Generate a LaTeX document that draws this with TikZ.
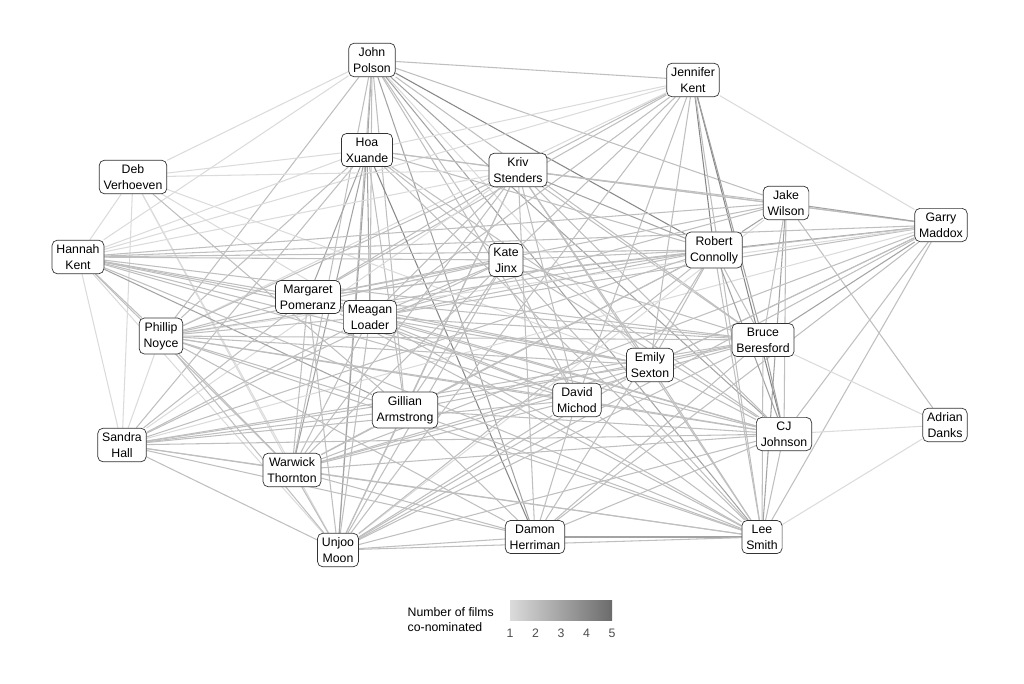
\documentclass[tikz,border=0pt]{standalone}
\usepackage{fontspec}
\setmainfont{Liberation Sans}
\usetikzlibrary{backgrounds}

\tikzset{
  person/.style={draw=black!80, fill=white, rounded corners=3pt, align=center,
    inner sep=2.5pt, font=\fontsize{7}{9}\selectfont},
  w1/.style={draw=black!14, line width=0.6pt},
  w2/.style={draw=black!25, line width=0.6pt},
  w3/.style={draw=black!36, line width=0.6pt},
  w4/.style={draw=black!47, line width=0.6pt},
  w5/.style={draw=black!58, line width=0.6pt},
}

\begin{document}
\begin{tikzpicture}[x=0.02cm, y=-0.02cm]
    \useasboundingbox (0,0) rectangle (1024,683);

    % people
    \node[person] (jp) at (372,60) {John\\Polson};
    \node[person] (jk) at (693,80) {Jennifer\\Kent};
    \node[person] (hx) at (367,150) {Hoa\\Xuande};
    \node[person] (dv) at (133,177) {Deb\\Verhoeven};
    \node[person] (ks) at (518,170) {Kriv\\Stenders};
    \node[person] (jw) at (786,203) {Jake\\Wilson};
    \node[person] (gm) at (941,225) {Garry\\Maddox};
    \node[person] (hk) at (78,257) {Hannah\\Kent};
    \node[person] (kj) at (506,260) {Kate\\Jinx};
    \node[person] (rc) at (714,250) {Robert\\Connolly};
    \node[person] (mp) at (308,297) {Margaret\\Pomeranz};
    \node[person] (ml) at (370,317) {Meagan\\Loader};
    \node[person] (pn) at (161,336) {Phillip\\Noyce};
    \node[person] (bb) at (763,340) {Bruce\\Beresford};
    \node[person] (es) at (650,365) {Emily\\Sexton};
    \node[person] (ga) at (405,410) {Gillian\\Armstrong};
    \node[person] (dm) at (577,400) {David\\Michod};
    \node[person] (ad) at (945,425) {Adrian\\Danks};
    \node[person] (sh) at (122,445) {Sandra\\Hall};
    \node[person] (cj) at (784,434) {CJ\\Johnson};
    \node[person] (wt) at (292,470) {Warwick\\Thornton};
    \node[person] (dh) at (535,537) {Damon\\Herriman};
    \node[person] (ls) at (762,537) {Lee\\Smith};
    \node[person] (um) at (338,550) {Unjoo\\Moon};

    % co-nominations
    \begin{scope}[on background layer]
    \foreach \a/\b/\w in {jp/jk/2, jp/jw/2, jp/rc/4, jp/dh/3, jp/ls/3, jp/cj/3, jp/hx/3, jp/pn/2,
        jp/hk/1, jp/dv/1, jp/wt/2, jp/ml/2, jp/um/2, jp/dm/2, jp/kj/2, jp/bb/2, jp/ga/2, jp/es/1,
        jk/ks/2, jk/kj/2, jk/ml/2, jk/mp/2, jk/rc/4, jk/cj/4, jk/bb/3, jk/gm/1, jk/dm/2, jk/um/2,
        jk/pn/1, jk/hk/1, jk/ls/2, jk/es/2, jk/hx/1,
        hx/ks/2, hx/ml/3, hx/mp/3, hx/um/3, hx/wt/3, hx/dh/4, hx/pn/2, hx/hk/1, hx/dv/1, hx/rc/2,
        hx/kj/2, hx/sh/2, hx/cj/2, hx/ga/2, hx/ls/2, hx/gm/2,
        dv/hk/1, dv/ml/1, dv/ga/2, dv/es/1, dv/ks/1, dv/sh/1, dv/wt/1, dv/um/1,
        ks/rc/3, ks/gm/2, ks/jw/2, ks/hk/1, ks/pn/2, ks/mp/2, ks/ml/2, ks/dm/2, ks/um/2, ks/wt/2,
        ks/ls/2, ks/cj/2, ks/bb/2, ks/es/2, ks/sh/1, ks/dh/2, ks/ga/2,
        jw/gm/3, jw/hk/2, jw/ml/2, jw/mp/2, jw/ls/3, jw/ad/2, jw/bb/2, jw/rc/3, jw/cj/2, jw/um/1,
        gm/rc/3, gm/hk/2, gm/ml/2, gm/mp/2, gm/bb/3, gm/es/2, gm/um/2, gm/dh/2, gm/cj/2, gm/ls/2,
        gm/dm/2, gm/pn/1, gm/wt/2, gm/sh/1,
        hk/kj/2, hk/rc/2, hk/mp/2, hk/ml/2, hk/pn/2, hk/sh/1, hk/ga/3, hk/dm/2, hk/cj/2, hk/bb/2,
        hk/es/2, hk/ls/2, hk/wt/2, hk/um/1,
        kj/rc/2, kj/mp/2, kj/ml/2, kj/pn/2, kj/dm/2, kj/cj/2, kj/ls/2, kj/um/2, kj/sh/2, kj/wt/2,
        kj/bb/2, kj/ga/2,
        rc/mp/2, rc/ml/2, rc/pn/2, rc/bb/2, rc/cj/3, rc/ls/2, rc/um/2, rc/dh/2, rc/sh/2, rc/ga/2,
        rc/es/2, rc/wt/2,
        mp/ml/2, mp/pn/2, mp/um/2, mp/wt/2, mp/sh/2, mp/bb/2, mp/cj/2, mp/ls/2, mp/es/2, mp/dm/2,
        ml/pn/2, ml/cj/2, ml/ls/2, ml/bb/2, ml/um/2, ml/wt/2, ml/sh/2, ml/dm/2, ml/es/2,
        pn/bb/2, pn/cj/2, pn/ls/2, pn/sh/1, pn/wt/2, pn/um/2, pn/ga/2, pn/dm/2, pn/dh/2, pn/es/2,
        bb/es/2, bb/cj/3, bb/ls/2, bb/um/2, bb/dh/2, bb/sh/2, bb/wt/2, bb/ga/2, bb/ad/1,
        es/um/2, es/wt/2, es/sh/2, es/ls/2, es/cj/2,
        ga/sh/2, ga/wt/2, ga/um/2, ga/dh/2, ga/ls/2, ga/cj/2,
        dm/cj/2, dm/ls/2, dm/um/2, dm/dh/2, dm/sh/2, dm/wt/2,
        ad/ls/1, ad/cj/1,
        sh/wt/2, sh/um/2, sh/cj/2, sh/dh/2, sh/ls/2,
        cj/dh/2, cj/ls/2, cj/um/2, cj/wt/2,
        wt/um/2, wt/dh/2, wt/ls/2, dh/um/2, dh/ls/3, um/ls/2}
        \draw[w\w] (\a) -- (\b);
    \end{scope}

    % legend
    \node[align=left, anchor=east, font=\fontsize{7}{8.5}\selectfont] (lgtitle) at (500,620)
        {Number of films\\co-nominated};
    \shade[left color=black!14, right color=black!58] (510,600) rectangle (612,620);
    \foreach \v [count=\i from 0] in {1,...,5}
        \node[font=\fontsize{7}{8}\selectfont, text=black!70] (lg\v) at (510+25.5*\i,633) {\v};
\end{tikzpicture}
\end{document}
